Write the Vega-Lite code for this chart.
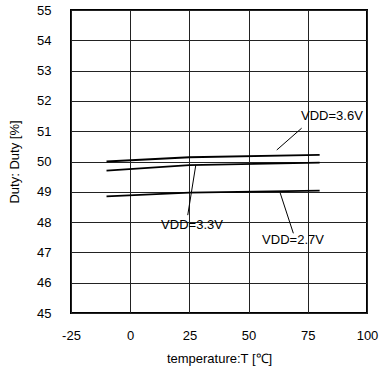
{
  "$schema": "https://vega.github.io/schema/vega-lite/v6.json",
  "width": 296,
  "height": 303,
  "autosize": {"type": "none"},
  "padding": {"left": 71, "top": 10, "right": 13, "bottom": 58},
  "config": {
    "font": "Liberation Sans",
    "view": {"stroke": "#000", "strokeWidth": 2},
    "axis": {
      "grid": true, "gridColor": "#222", "gridWidth": 1, "gridOpacity": 1,
      "domain": false, "ticks": false, "labelOverlap": false, "labelBound": false, "labelFlush": false,
      "tickCount": 20,
      "labelFont": "Liberation Sans", "labelFontSize": 13, "labelColor": "#000",
      "titleFont": "Liberation Sans", "titleFontSize": 13, "titleFontWeight": "normal", "titleColor": "#000"
    }
  },
  "datasets": {
    "curves": [
      {"T": -10, "Duty": 50.0, "VDD": "3.6V"},
      {"T": 25, "Duty": 50.14, "VDD": "3.6V"},
      {"T": 80, "Duty": 50.22, "VDD": "3.6V"},
      {"T": -10, "Duty": 49.7, "VDD": "3.3V"},
      {"T": 25, "Duty": 49.88, "VDD": "3.3V"},
      {"T": 80, "Duty": 49.96, "VDD": "3.3V"},
      {"T": -10, "Duty": 48.85, "VDD": "2.7V"},
      {"T": 25, "Duty": 48.97, "VDD": "2.7V"},
      {"T": 80, "Duty": 49.04, "VDD": "2.7V"}
    ],
    "leaders": [
      {"x1": 72.4, "y1": 51.1, "x2": 61.9, "y2": 50.38},
      {"x1": 27.7, "y1": 49.88, "x2": 24.3, "y2": 48.23},
      {"x1": 63.3, "y1": 48.97, "x2": 68.9, "y2": 47.63}
    ],
    "labels": [
      {"T": 85.2, "Duty": 51.5, "text": "VDD=3.6V"},
      {"T": 26.1, "Duty": 47.9, "text": "VDD=3.3V"},
      {"T": 68.75, "Duty": 47.4, "text": "VDD=2.7V"}
    ]
  },
  "layer": [
    {
      "data": {"name": "curves"},
      "mark": {"type": "line", "color": "#000", "strokeWidth": 1.8},
      "encoding": {
        "x": {"field": "T", "type": "quantitative",
              "scale": {"domain": [-25, 100], "nice": false},
              "axis": {"values": [-25, 0, 25, 50, 75, 100], "labelExpr": "toString(datum.value)", "labelPadding": 16, "titlePadding": 10, "title": "temperature:T [℃]"}},
        "y": {"field": "Duty", "type": "quantitative",
              "scale": {"domain": [45, 55], "nice": false, "zero": false},
              "axis": {"values": [45, 46, 47, 48, 49, 50, 51, 52, 53, 54, 55], "format": "d", "labelPadding": 20, "titlePadding": 15, "title": "Duty: Duty [%]"}},
        "detail": {"field": "VDD"}
      }
    },
    {
      "data": {"name": "leaders"},
      "mark": {"type": "rule", "color": "#000", "strokeWidth": 1},
      "encoding": {
        "x": {"field": "x1", "type": "quantitative"},
        "y": {"field": "y1", "type": "quantitative"},
        "x2": {"field": "x2"},
        "y2": {"field": "y2"}
      }
    },
    {
      "data": {"name": "labels"},
      "mark": {"type": "text", "font": "Liberation Sans", "fontSize": 13, "color": "#000", "baseline": "middle", "align": "center"},
      "encoding": {
        "x": {"field": "T", "type": "quantitative"},
        "y": {"field": "Duty", "type": "quantitative"},
        "text": {"field": "text"}
      }
    }
  ]
}
